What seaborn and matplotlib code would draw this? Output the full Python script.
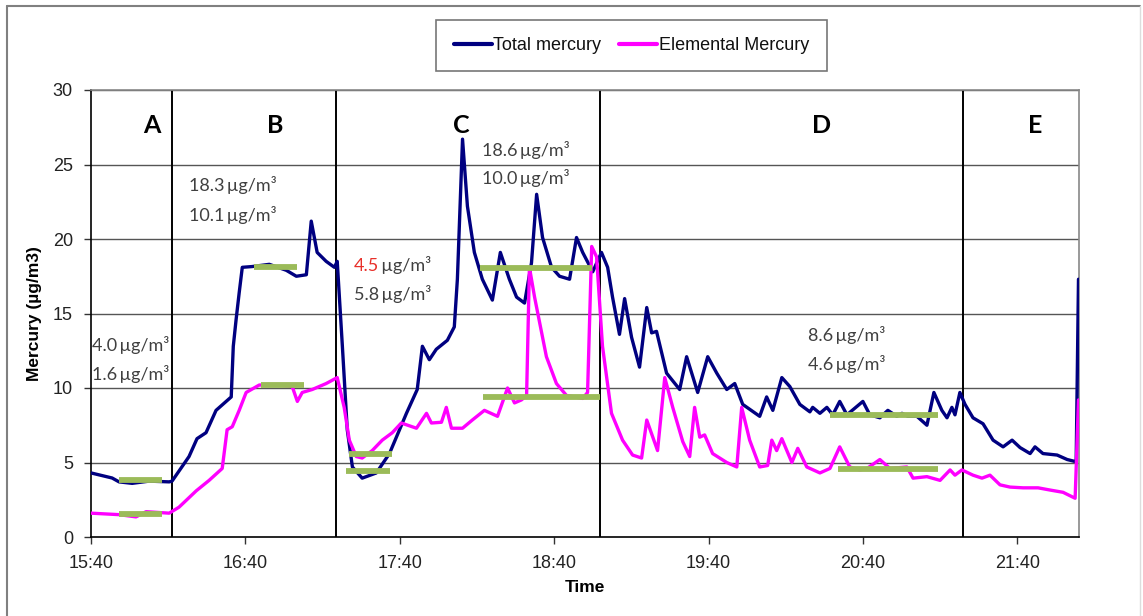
import numpy as np
import pandas as pd
import matplotlib
matplotlib.use("Agg")
import matplotlib.pyplot as plt
from matplotlib.lines import Line2D
import seaborn as sns

# ---------------- data (minutes after 15:40) ----------------
total_t = [0, 8.2, 10.9, 16, 22.6, 30.4, 31.5, 38.1, 41.2, 44.7, 48.6, 54.5, 55.3, 56.4, 57.6, 58.8,
           62.6, 69.3, 75.9, 79.8, 83.7, 85.6, 87.9, 91.4, 94.6, 95.7, 97.7, 99.6, 101.6, 105.4,
           110.9, 116, 122.6, 126.8, 128.8, 131.5, 134.2, 138.5, 141.2, 142.4, 144.4, 146.3, 149,
           152.1, 156, 159.1, 162.6, 165.4, 168.5, 171.2, 173.2, 175.5, 179, 182.1, 186, 188.7,
           191.1, 195, 198.4, 200.8, 202.7, 205.4, 207.4, 210.1, 213.2, 216, 217.9, 219.8, 223.7,
           228.8, 231.5, 235.8, 239.7, 243.2, 247.1, 250.2, 253.3, 259.9, 262.6, 265, 268.5, 271.6,
           275.5, 279.4, 280.5, 283.3, 286, 288.3, 291, 293.8, 300, 302.7, 306.6, 309.7, 313.2,
           315.2, 317.5, 321, 324.9, 327.6, 330.7, 332.7, 334.6, 335.8, 337.7, 339.7, 342.8, 346.7,
           350.6, 354.5, 358, 361.1, 365, 366.9, 370, 375.5, 379.4, 382.9, 383.8]
total_v = [4.3, 3.96, 3.7, 3.6, 3.75, 3.7, 3.75, 5.4, 6.6, 7.0, 8.5, 9.4, 12.8, 14.6, 16.4, 18.1,
           18.15, 18.3, 17.9, 17.5, 17.6, 21.2, 19.1, 18.5, 18.1, 18.5, 12.8, 7.2, 4.7, 3.95,
           4.3, 5.6, 8.3, 9.9, 12.8, 11.9, 12.6, 13.2, 14.1, 17.3, 26.7, 22.2, 19.1,
           17.3, 15.9, 19.1, 17.3, 16.1, 15.7, 18.4, 23.0, 20.1, 18.1, 17.5, 17.3, 20.1,
           19.1, 17.8, 19.1, 18.1, 16.1, 13.6, 16.0, 13.4, 11.4, 15.4, 13.7, 13.8, 11.0,
           9.9, 12.1, 9.7, 12.1, 11.0, 9.9, 10.3, 8.9, 8.1, 9.4, 8.5, 10.7, 10.1,
           8.9, 8.4, 8.7, 8.3, 8.7, 8.2, 9.1, 8.2, 9.1, 8.2, 8.0, 8.5, 8.1,
           8.3, 8.1, 8.1, 7.5, 9.7, 8.5, 8.0, 8.7, 8.2, 9.7, 8.9, 8.0, 7.6,
           6.5, 6.05, 6.5, 6.0, 5.6, 6.05, 5.6, 5.5, 5.2, 5.05, 17.3]

elem_t = [0, 10.9, 17.5, 21.4, 30.4, 34.2, 40.9, 45.9, 51, 52.9, 54.9, 57.6, 60.3, 65.4, 73.2, 78.2,
          80.2, 82.1, 86, 91.4, 95.7, 98.4, 100.4, 103.1, 105.4, 109.3, 113.2, 117.1, 120.6, 126.5,
          130.4, 132.3, 136.2, 138.1, 140.1, 144.4, 148.2, 152.9, 158, 161.9, 164.6, 167.3, 169.3,
          170.4, 172.4, 177, 180.9, 184.8, 191.1, 193, 194.6, 196.5, 198.8, 202.3, 206.6, 210.5,
          214, 216, 220.2, 223, 226.1, 230, 232.7, 234.6, 236.6, 238.5, 241.6, 247.1, 251, 252.9,
          256, 259.9, 263, 264.6, 266.5, 268.5, 272.4, 274.7, 278.2, 283.3, 287.2, 291, 294.9,
          298.8, 301.6, 306.6, 310.5, 317.1, 319.5, 324.9, 330, 333.9, 335.8, 338.5, 342.8, 346.3,
          349.4, 353.3, 357.2, 362.3, 368.1, 372.8, 377.8, 382.5, 383.8]
elem_v = [1.6, 1.5, 1.35, 1.7, 1.6, 2.0, 3.1, 3.8, 4.6, 7.2, 7.4, 8.5, 9.7, 10.2, 10.2, 10.1,
          9.1, 9.7, 9.9, 10.3, 10.7, 8.7, 6.5, 5.4, 5.3, 5.8, 6.5, 7.0, 7.65, 7.3,
          8.3, 7.65, 7.7, 8.7, 7.3, 7.3, 7.85, 8.5, 8.1, 10.0, 9.0, 9.2, 9.5,
          18.1, 16.1, 12.1, 10.3, 9.5, 9.3, 9.7, 19.5, 18.8, 12.8, 8.3, 6.5, 5.5,
          5.3, 7.85, 5.8, 10.7, 8.7, 6.4, 5.4, 8.7, 6.7, 6.85, 5.6, 5.0, 4.7, 8.7,
          6.5, 4.7, 4.8, 6.5, 5.8, 6.6, 5.0, 5.95, 4.7, 4.3, 4.6, 6.05, 4.7,
          4.5, 4.6, 5.2, 4.6, 4.7, 3.95, 4.05, 3.8, 4.5, 4.15, 4.5, 4.15, 3.95,
          4.15, 3.5, 3.35, 3.3, 3.3, 3.15, 3.0, 2.6, 9.2]

series_names = ["Total mercury", "Elemental Mercury"]
series_colors = ["#000080", "#FF00FF"]

# mean levels (green bars): start, end, value
mean_start = [10.9, 10.9, 63.4, 66.1, 100.4, 99.2, 151.0, 152.5, 287.2, 290.3]
mean_end = [27.6, 27.6, 80.2, 82.9, 117.1, 116.3, 194.6, 198.0, 329.2, 329.2]
mean_val = [3.85, 1.55, 18.1, 10.2, 5.6, 4.4, 18.05, 9.4, 8.2, 4.55]

# phase boundaries and labels
phase_bounds = [31.5, 95.3, 198.0, 338.9]
phase_labels = ["A", "B", "C", "D", "E"]
phase_label_x = [23.7, 71.6, 144.0, 284.0, 367.0]

# annotations
ann_x = [0.4, 38.1, 102.3, 151.8, 278.6]
ann_top = ["4.0", "18.3", "4.5", "18.6", "8.6"]
ann_top_y = [12.9, 23.6, 18.2, 26.0, 13.57]
ann_bot = ["1.6", "10.1", "5.8", "10.0", "4.6"]
ann_bot_y = [10.95, 21.6, 16.3, 24.1, 11.6]
ann_red = [False, False, True, False, False]

tick_pos = [0, 60, 120, 180, 240, 300, 360]
tick_labels = ["15:40", "16:40", "17:40", "18:40", "19:40", "20:40", "21:40"]

# ---------------- build ----------------
df = pd.concat([
    pd.DataFrame({"minutes": total_t, "value": total_v, "series": series_names[0]}),
    pd.DataFrame({"minutes": elem_t, "value": elem_v, "series": series_names[1]}),
], ignore_index=True)

sns.set_theme(style="white")
plt.rcParams["font.family"] = ["Liberation Sans", "DejaVu Sans"]

W, H = 1143, 616
fig = plt.figure(figsize=(W / 100, H / 100), dpi=100)
ax = fig.add_axes([91 / W, 1 - 537 / H, (1079 - 91) / W, (537 - 90) / H])

# grid
for yv in range(5, 31, 5):
    ax.axhline(yv, color="#555555", lw=1.0, zorder=1)
for xb in phase_bounds:
    ax.axvline(xb, color="black", lw=1.4, zorder=1)

sns.lineplot(data=df, x="minutes", y="value", hue="series", hue_order=series_names,
             palette=series_colors, estimator=None, sort=False, lw=2.4, ax=ax, zorder=3)

ax.hlines(mean_val, mean_start, mean_end, colors="#9BBB59", lw=4.2, zorder=4)

ax.set_xlim(0, 384)
ax.set_ylim(0, 30)
ax.set_xticks(tick_pos)
ax.set_xticklabels(tick_labels)
ax.set_yticks(range(0, 31, 5))
ax.tick_params(axis="both", which="both", direction="out", length=5, width=1,
               color="#333333", labelsize=13, labelcolor="#222222", pad=8,
               bottom=True, left=True)
ax.set_xlabel("Time", fontsize=12.5, fontweight="bold", color="black", labelpad=6)
ax.set_ylabel("Mercury (\u00b5g/m3)", fontsize=12.5, fontweight="bold", color="black", labelpad=8)

for side in ["left", "bottom"]:
    ax.spines[side].set_color("black")
    ax.spines[side].set_linewidth(1.2)
for side in ["top", "right"]:
    ax.spines[side].set_color("#888888")
    ax.spines[side].set_linewidth(1.2)

# phase letters
for lx, lab in zip(phase_label_x, phase_labels):
    ax.text(lx, 27.6, lab, ha="center", va="center", fontsize=18, fontweight="bold",
            family=["Lato", "DejaVu Sans"], color="black", zorder=5)

# annotations
gray = "#404040"
unit = "\u2009\u00b5g/m\u00b3"
afont = ["Lato", "DejaVu Sans"]
for x, t1, y1, t2, y2, red in zip(ann_x, ann_top, ann_top_y, ann_bot, ann_bot_y, ann_red):
    if red:
        tt = ax.text(x, y1, t1, ha="left", va="center", fontsize=13, color="#E8302A",
                     family=afont, zorder=5)
        ax.annotate(unit, xy=(1, 0), xycoords=tt, ha="left", va="bottom", fontsize=13,
                    color=gray, family=afont, zorder=5)
    else:
        ax.text(x, y1, t1 + unit, ha="left", va="center", fontsize=13, color=gray,
                family=afont, zorder=5)
    ax.text(x, y2, t2 + unit, ha="left", va="center", fontsize=13, color=gray,
            family=afont, zorder=5)

# legend
if ax.get_legend() is not None:
    ax.get_legend().remove()
handles = [Line2D([0], [0], color=c, lw=3) for c in series_colors]
leg = ax.legend(handles, series_names, loc="center", bbox_to_anchor=(631.5 / W, 1 - 45.5 / H),
                bbox_transform=fig.transFigure, ncol=2, frameon=True, fancybox=False,
                edgecolor="#555555", fontsize=13, handlelength=2.1, handletextpad=0.1,
                columnspacing=1.0, borderpad=0.95, borderaxespad=0)
leg.get_frame().set_linewidth(1.2)
for txt in leg.get_texts():
    txt.set_color("#111111")

# outer frame
fig.add_artist(Line2D([7 / W, 1140 / W], [1 - 6 / H, 1 - 6 / H], transform=fig.transFigure,
                      color="#808080", lw=1.5))
fig.add_artist(Line2D([7 / W, 7 / W], [0, 1 - 6 / H], transform=fig.transFigure,
                      color="#808080", lw=1.5))
fig.add_artist(Line2D([1140 / W, 1140 / W], [0, 1 - 6 / H], transform=fig.transFigure,
                      color="#dddddd", lw=1.0))

fig.savefig("out.png", dpi=100)
